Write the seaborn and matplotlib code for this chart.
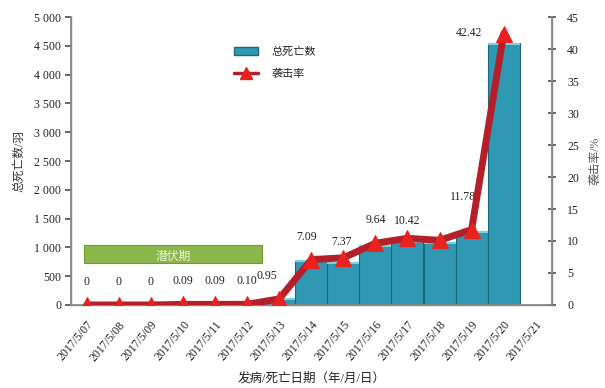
import numpy as np
import pandas as pd
import matplotlib
matplotlib.use("Agg")
import matplotlib.pyplot as plt
import matplotlib.transforms as mtrans
from matplotlib.patches import Rectangle, Patch
from matplotlib.lines import Line2D
import seaborn as sns

# data
dates = ["2017/5/07", "2017/5/08", "2017/5/09", "2017/5/10", "2017/5/11",
         "2017/5/12", "2017/5/13", "2017/5/14", "2017/5/15", "2017/5/16",
         "2017/5/17", "2017/5/18", "2017/5/19", "2017/5/20", "2017/5/21"]
bar_dates = ["2017/5/13", "2017/5/14", "2017/5/15", "2017/5/16",
             "2017/5/17", "2017/5/18", "2017/5/19", "2017/5/20"]
deaths = [120, 775, 750, 1050, 1110, 1100, 1280, 4555]
rate_dates = dates[:14]
rate = [0, 0, 0, 0.09, 0.09, 0.10, 0.95, 7.09, 7.37, 9.64, 10.42, 10.10, 11.78, 42.42]
rate_labels = ["0", "0", "0", "0.09", "0.09", "0.10", "0.95", "7.09", "7.37",
               "9.64", "10.42", "", "11.78", "42.42"]

sns.set_theme(style="white")
plt.rcParams['font.family'] = ['Liberation Serif', 'Noto Sans CJK SC']
plt.rcParams['axes.unicode_minus'] = False

fig = plt.figure(figsize=(6.05, 3.88), dpi=100)
ax = fig.add_axes([0.117, 0.214, 0.795, 0.742])

df = pd.DataFrame({"date": bar_dates, "deaths": deaths})
sns.barplot(data=df, x="date", y="deaths", order=dates, ax=ax, width=1.0,
            color="#2f98b3", saturation=1, edgecolor="#1d6579", linewidth=0.8,
            zorder=2)
# light top strip on each bar
for p in ax.patches:
    h = p.get_height()
    if np.isfinite(h) and h > 0:
        ax.add_patch(Rectangle((p.get_x(), h - min(35, h * 0.3)), p.get_width(), min(35, h * 0.3),
                               facecolor="#7fd0e2", edgecolor="none", zorder=2.5))

ax.set_xlim(-0.5, len(dates) - 0.5)
ax.set_ylim(0, 5000)
yt = np.arange(0, 5001, 500)
ax.set_yticks(yt)
ax.set_yticklabels([f"{v:,}".replace(",", " ") for v in yt], fontsize=8.5, color="#222")
ax.set_xticks(range(len(dates)))
ax.set_xticklabels(dates, rotation=50, ha="right", rotation_mode="anchor",
                   fontsize=8.5, color="#222")
shift = mtrans.ScaledTranslation(5 / 100, 0, fig.dpi_scale_trans)
for lab in ax.get_xticklabels():
    lab.set_transform(lab.get_transform() + shift)
ax.set_xticks(np.arange(-0.5, len(dates), 1), minor=True)
ax.tick_params(axis="x", which="major", length=0, pad=10)
ax.tick_params(axis="x", which="minor", length=3, direction="in", color="#555")
ax.tick_params(axis="y", length=4, direction="out", color="#555", left=True, pad=3)
ax.set_xlabel("发病/死亡日期（年/月/日）", fontsize=9, color="#222", labelpad=6)
ax.set_ylabel("总死亡数/羽", fontsize=8.5, color="#333", labelpad=6)
for s in ["left", "bottom", "right"]:
    ax.spines[s].set_color("#888")
    ax.spines[s].set_linewidth(1)
ax.spines["top"].set_visible(False)

# incubation period box
ax.add_patch(Rectangle((-0.1, 730), 5.56, 320, facecolor="#8cb74b",
                       edgecolor="#6f9a35", linewidth=0.8, zorder=3))
ax.text(2.68, 830, "潜伏期", ha="center", va="center", fontsize=8.5,
        color="#eef4e4", zorder=4)

ax2 = ax.twinx()
pos = [dates.index(d) for d in rate_dates]
sns.lineplot(x=pos, y=rate, ax=ax2, color="#b51f2a", linewidth=5, marker="^",
             markersize=12, markerfacecolor="#e8231f", markeredgecolor="#e8231f",
             zorder=5, sort=False)
ax2.set_ylim(0, 45)
ax2.set_xlim(-0.5, len(dates) - 0.5)
ax2.set_yticks(np.arange(0, 46, 5))
ax2.tick_params(axis="y", labelsize=8.5, labelcolor="#222", length=6,
                direction="inout", color="#555", right=True, pad=8)
ax2.set_ylabel("袭击率/%", fontsize=8.5, color="#555", rotation=90, labelpad=8)
for s in ["left", "bottom", "right"]:
    ax2.spines[s].set_color("#888")
ax2.spines["top"].set_visible(False)

offsets = {6: (-12, 23), 7: (-5, 23), 8: (-2, 16), 10: (0, 17),
           12: (-9, 33), 13: (-35, 1)}
for i, (x, y, lab) in enumerate(zip(pos, rate, rate_labels)):
    if not lab:
        continue
    dx, dy = offsets.get(i, (0, 23))
    ax2.annotate(lab, (x, y), xytext=(dx, dy), textcoords="offset pixels",
                 ha="center", va="center", fontsize=8.5, color="#222")

handles = [Patch(facecolor="#2f98b3", edgecolor="#1d6579"),
           Line2D([], [], color="#b51f2a", lw=2.5, marker="^", markersize=8,
                  markerfacecolor="#e8231f", markeredgecolor="#e8231f")]
fig.legend(handles, ["总死亡数", "袭击率"], loc="upper left",
           bbox_to_anchor=(0.37, 0.905), frameon=False, fontsize=8,
           handlelength=2.2, labelspacing=1.0, handletextpad=1.2)

fig.savefig("out.png", dpi=100)
